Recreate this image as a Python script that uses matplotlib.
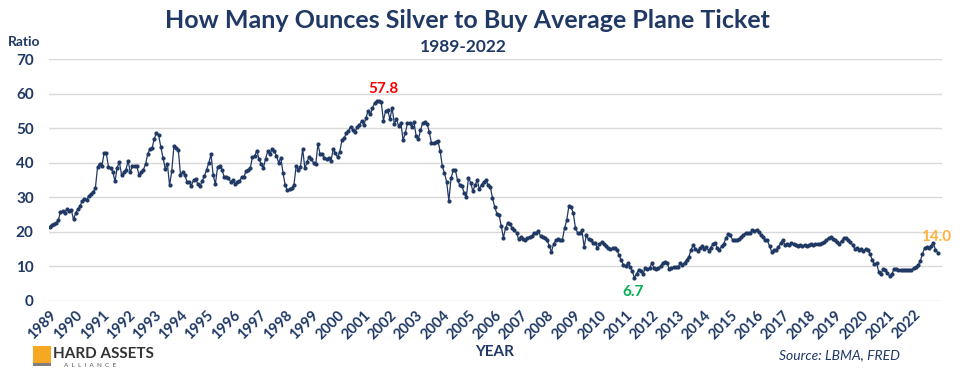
import numpy as np
import matplotlib
matplotlib.use("Agg")
import matplotlib.pyplot as plt
from matplotlib.patches import Rectangle

# monthly ratio (oz silver per average plane ticket)
y1989 = [21.4, 22.1, 22.3, 22.5, 23.3, 25.8, 26.0, 25.6, 26.6, 26.0, 26.2, 23.6]
y1990 = [25.5, 26.6, 27.5, 29.0, 29.6, 29.3, 30.4, 31.0, 31.6, 32.6, 38.8, 39.7]
y1991 = [39.0, 42.8, 42.8, 38.8, 38.4, 37.4, 34.6, 38.6, 40.2, 36.5, 37.2, 38.0]
y1992 = [40.5, 37.3, 39.0, 39.0, 39.0, 36.5, 37.2, 38.0, 39.6, 42.5, 44.0, 44.2]
y1993 = [47.0, 48.6, 48.0, 44.5, 41.5, 38.3, 39.7, 33.5, 37.5, 44.8, 44.2, 43.8]
y1994 = [36.6, 37.3, 36.5, 34.5, 34.3, 33.4, 35.0, 35.2, 33.8, 33.2, 34.8, 36.2]
y1995 = [38.0, 40.0, 42.4, 36.4, 33.8, 38.8, 39.2, 38.0, 36.0, 35.9, 35.5, 34.5]
y1996 = [35.0, 33.8, 34.3, 34.6, 35.8, 35.8, 37.5, 37.8, 38.5, 41.6, 42.0, 43.5]
y1997 = [41.0, 39.6, 38.5, 41.2, 43.3, 42.5, 43.9, 43.4, 42.0, 40.0, 41.5, 37.0]
y1998 = [33.5, 32.0, 32.3, 32.6, 33.6, 39.0, 38.0, 38.8, 44.0, 38.4, 40.2, 41.8]
y1999 = [41.0, 40.0, 39.6, 45.4, 42.5, 42.4, 41.5, 41.0, 41.5, 40.5, 44.0, 42.8]
y2000 = [41.6, 43.2, 46.5, 47.1, 48.6, 49.2, 50.5, 49.6, 48.8, 50.4, 51.0, 52.0]
y2001 = [50.8, 53.0, 55.0, 54.0, 55.8, 57.4, 57.8, 57.8, 57.6, 52.2, 55.0, 55.2]
y2002 = [52.6, 56.0, 51.2, 52.6, 50.6, 51.5, 46.6, 48.5, 51.4, 51.4, 50.4, 51.8]
y2003 = [47.8, 46.8, 49.4, 51.5, 51.8, 51.3, 49.0, 45.8, 45.6, 46.0, 46.4, 43.4]
y2004 = [39.0, 37.0, 34.4, 29.0, 35.5, 37.8, 37.8, 34.9, 33.6, 33.2, 31.3, 30.0]
y2005 = [35.7, 34.2, 31.8, 33.5, 35.0, 32.3, 33.7, 34.5, 35.0, 33.5, 33.0, 29.8]
y2006 = [27.2, 25.3, 25.0, 21.6, 18.3, 21.2, 22.6, 22.4, 21.0, 20.4, 19.8, 17.8]
y2007 = [18.6, 18.0, 17.7, 18.3, 18.6, 18.7, 19.8, 19.7, 20.2, 18.8, 18.4, 18.3]
y2008 = [17.6, 16.0, 14.2, 16.5, 17.5, 17.8, 17.6, 17.6, 21.0, 23.3, 27.4, 27.2]
y2009 = [25.5, 21.2, 19.7, 19.6, 20.4, 15.6, 19.0, 17.8, 17.6, 16.8, 16.9, 15.3]
y2010 = [16.5, 17.0, 16.6, 15.9, 15.3, 15.0, 15.2, 15.3, 14.8, 13.2, 11.8, 10.4]
y2011 = [10.1, 10.9, 9.9, 8.8, 6.7, 7.8, 9.1, 8.6, 7.9, 9.5, 9.2, 9.6]
y2012 = [10.9, 9.6, 9.2, 9.5, 10.0, 11.0, 11.2, 10.9, 9.3, 9.4, 9.7, 9.8]
y2013 = [9.7, 10.9, 10.4, 11.1, 11.9, 12.8, 14.8, 16.2, 15.1, 14.6, 15.2, 15.9]
y2014 = [15.1, 15.6, 14.6, 15.4, 16.5, 16.9, 15.2, 14.8, 15.8, 16.6, 18.2, 19.3]
y2015 = [19.0, 17.7, 17.5, 17.6, 18.0, 18.4, 19.2, 19.7, 19.7, 19.6, 20.4, 20.2]
y2016 = [20.6, 20.0, 19.0, 18.5, 17.6, 17.5, 15.8, 14.2, 14.8, 14.8, 15.5, 16.7]
y2017 = [17.7, 16.2, 16.4, 16.2, 16.7, 16.5, 16.2, 15.9, 16.2, 15.9, 16.2, 15.9]
y2018 = [16.2, 16.4, 16.2, 16.4, 16.6, 16.5, 16.8, 17.1, 17.6, 18.3, 18.4, 17.9]
y2019 = [17.6, 17.0, 16.6, 17.4, 18.2, 18.3, 17.6, 17.0, 16.2, 15.1, 15.2, 14.8]
y2020 = [14.9, 14.5, 15.0, 14.7, 13.6, 11.9, 10.6, 10.9, 8.5, 7.8, 9.2, 9.1]
y2021 = [8.2, 7.2, 7.7, 9.3, 9.2, 9.1, 9.0, 9.0, 9.1, 9.0, 9.0, 9.0]
y2022 = [9.5, 9.8, 10.3, 11.5, 13.5, 15.3, 15.6, 15.3, 15.8, 16.9, 14.8, 14.0]

years = list(range(1989, 2023))
ratio = np.array(y1989 + y1990 + y1991 + y1992 + y1993 + y1994 + y1995 + y1996
                 + y1997 + y1998 + y1999 + y2000 + y2001 + y2002 + y2003 + y2004
                 + y2005 + y2006 + y2007 + y2008 + y2009 + y2010 + y2011 + y2012
                 + y2013 + y2014 + y2015 + y2016 + y2017 + y2018 + y2019 + y2020
                 + y2021 + y2022)
t = 1989 + np.arange(len(ratio)) / 12.0

NAVY = "#1F3864"
plt.rcParams['font.family'] = ['Lato', 'DejaVu Sans']

fig = plt.figure(figsize=(9.65, 3.72), dpi=100)
ax = fig.add_axes([0.0508, 0.191, 0.925, 0.650])

ax.plot(t, ratio, color=NAVY, lw=0.9, marker="o", ms=2.0, mec=NAVY, mfc=NAVY)

ax.set_ylim(0, 70)
ax.set_xlim(1988.98, 2023.07)
ax.set_yticks(range(0, 71, 10))
ax.set_xticks(years)
ax.set_xticklabels([str(y) for y in years], rotation=45, ha="right",
                   rotation_mode="anchor", fontsize=10.5, fontweight="bold", color=NAVY)
ax.tick_params(axis="y", length=0, pad=11, labelsize=11, labelcolor=NAVY)
ax.tick_params(axis="x", length=0, pad=5)
for lb in ax.get_yticklabels():
    lb.set_fontweight("bold")
ax.grid(axis="y", color="#D9D9D9", lw=1)
ax.set_axisbelow(True)
for s in ax.spines.values():
    s.set_visible(False)

# labels for max, min and last value
imax = int(np.argmax(ratio))
imin = int(np.argmin(ratio))
ax.annotate(f"{ratio[imax]:.1f}", (t[imax], ratio[imax]), xytext=(5, 9),
            textcoords="offset points", ha="center", va="center",
            color="#FF0000", fontsize=11, fontweight="bold")
ax.annotate(f"{ratio[imin]:.1f}", (t[imin], ratio[imin]), xytext=(-1, -10),
            textcoords="offset points", ha="center", va="center",
            color="#00B050", fontsize=11, fontweight="bold")
ax.annotate(f"{ratio[-1]:.1f}", (t[-1], ratio[-1]), xytext=(-1, 11),
            textcoords="offset points", ha="center", va="center",
            color="#FFB13B", fontsize=11, fontweight="bold")

fig.text(0.4845, 0.946, "How Many Ounces Silver to Buy Average Plane Ticket",
         ha="center", va="center", fontsize=18, fontweight="bold", color=NAVY)
fig.text(0.48, 0.874, "1989-2022", ha="center", va="center",
         fontsize=12.5, fontweight="bold", color=NAVY)
fig.text(0.025, 0.887, "Ratio", ha="center", va="center",
         fontsize=10, fontweight="bold", color=NAVY)
fig.text(0.513, 0.054, "YEAR", ha="center", va="center",
         fontsize=11, fontweight="bold", color=NAVY)
fig.text(0.870, 0.046, "Source: LBMA, FRED", ha="center", va="center",
         fontsize=10, style="italic", color=NAVY)

# logo, bottom left
fig.patches.append(Rectangle((0.034, 0.017), 0.019, 0.052, transform=fig.transFigure,
                             facecolor="#F7A823", edgecolor="none"))
fig.patches.append(Rectangle((0.034, 0.017), 0.019, 0.008, transform=fig.transFigure,
                             facecolor="#7F7F7F", edgecolor="none"))
fig.text(0.055, 0.049, "HARD ASSETS", ha="left", va="center",
         fontsize=11, fontweight="bold", color="#333333")
fig.text(0.066, 0.017, "A  L  L  I  A  N  C  E", ha="left", va="center",
         fontsize=4.5, color="#555555")

fig.savefig("out.png", dpi=100, facecolor="white")
